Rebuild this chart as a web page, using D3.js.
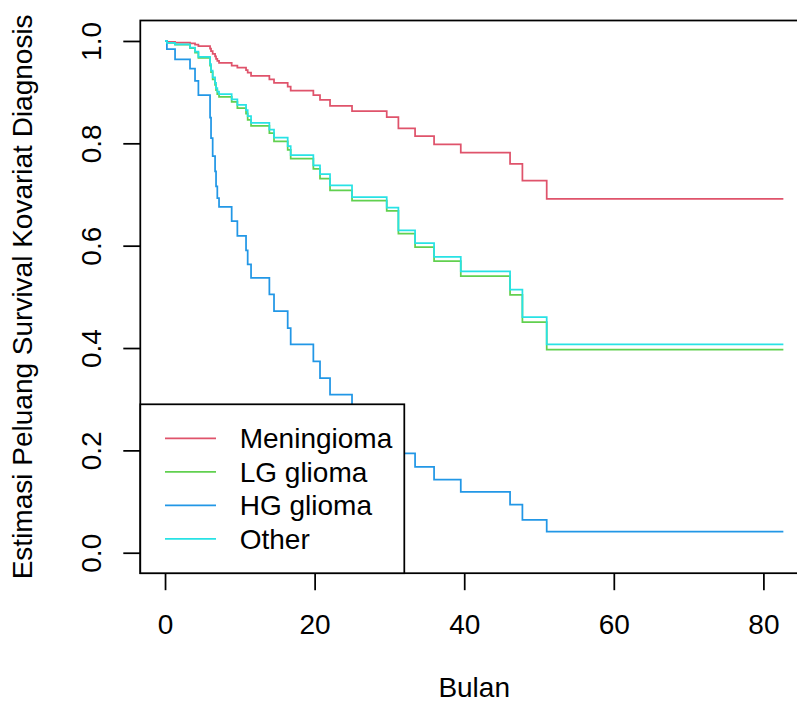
<!DOCTYPE html>
<html>
<head>
<meta charset="utf-8">
<script src="https://cdn.jsdelivr.net/npm/d3@7"></script>
<style>
  body { margin: 0; background: #fff; }
  svg { display: block; }
  text { font-family: "Liberation Sans", Arial, Helvetica, sans-serif; }
</style>
</head>
<body>
<div id="chart"></div>
<script>
// step times (bulan), shared by every curve
var times = [0, 0.25, 1.34, 3.34, 4.01, 4.46, 6.02, 6.15, 6.37, 6.69, 6.82, 6.99, 7.22,
  8.91, 9.67, 10.83, 11.05, 11.5, 13.95, 14.57, 16.4, 16.8, 19.83, 20.72, 22.06,
  25.0, 29.64, 31.2, 33.43, 35.97, 39.54, 46.13, 47.78, 51.03, 82.67];

var meningioma = [1, 0.998, 0.997, 0.9955, 0.993, 0.990, 0.985, 0.980, 0.975, 0.970, 0.965, 0.961, 0.957,
  0.952, 0.948, 0.943, 0.938, 0.932, 0.925, 0.918, 0.911, 0.903, 0.894, 0.885, 0.873,
  0.863, 0.851, 0.829, 0.814, 0.798, 0.782, 0.760, 0.727, 0.6915, 0.6915];

var lgGlioma = [1, 0.9963, 0.993, 0.986, 0.977, 0.967, 0.952, 0.939, 0.925, 0.914, 0.904, 0.896, 0.891,
  0.881, 0.869, 0.858, 0.846, 0.834, 0.820, 0.804, 0.787, 0.770, 0.750, 0.731, 0.708,
  0.688, 0.668, 0.6235, 0.597, 0.570, 0.5407, 0.504, 0.4507, 0.397, 0.397];

var hgGlioma = [1, 0.984, 0.964, 0.946, 0.922, 0.894, 0.850, 0.810, 0.775, 0.745, 0.716, 0.693, 0.676,
  0.648, 0.619, 0.591, 0.5636, 0.537, 0.505, 0.472, 0.439, 0.407, 0.374, 0.341, 0.309,
  0.272, 0.245, 0.194, 0.168, 0.143, 0.119, 0.094, 0.064, 0.041, 0.041];

var other = [1, 0.9965, 0.9935, 0.987, 0.979, 0.969, 0.955, 0.942, 0.929, 0.918, 0.908, 0.901, 0.896,
  0.886, 0.875, 0.865, 0.853, 0.840, 0.827, 0.811, 0.7945, 0.777, 0.757, 0.740, 0.718,
  0.695, 0.6745, 0.630, 0.605, 0.578, 0.550, 0.514, 0.4605, 0.407, 0.407];

var groupNames = ['Meningioma', 'LG glioma', 'HG glioma', 'Other'];
var groupColors = ['#DF536B', '#61D04F', '#2297E6', '#28E2E5'];
var series = [meningioma, lgGlioma, hgGlioma, other];

var xTicks = [0, 20, 40, 60, 80];
var yTicks = [0, 0.2, 0.4, 0.6, 0.8, 1.0];
var xTitle = 'Bulan';
var yTitle = 'Estimasi Peluang Survival Kovariat Diagnosis';

// Visual config
var width = 797, height = 702;
var fontSize = 28;
var lwd = 1.75;
var tickLen = 17;
var plotLeft = 140.3, plotRight = 808.1, plotTop = 20.5, plotBottom = 573.2;

var tmax = d3.max(times);
var x = d3.scaleLinear().domain([-0.04 * tmax, 1.04 * tmax]).range([plotLeft, plotRight]);
var y = d3.scaleLinear().domain([-0.04, 1.04]).range([plotBottom, plotTop]);

var svg = d3.select('#chart')
  .append('svg')
  .attr('width', width)
  .attr('height', height)
  .style('background', '#fff');

svg.append('clipPath')
  .attr('id', 'plotclip')
  .append('rect')
  .attr('x', plotLeft)
  .attr('y', plotTop)
  .attr('width', plotRight - plotLeft)
  .attr('height', plotBottom - plotTop);

var line = d3.line()
  .x(function (d) { return x(d[0]); })
  .y(function (d) { return y(d[1]); })
  .curve(d3.curveStepAfter);

svg.append('g')
  .attr('clip-path', 'url(#plotclip)')
  .selectAll('path')
  .data(series)
  .enter()
  .append('path')
  .attr('d', function (s) {
    return line(times.map(function (t, i) { return [t, s[i]]; }));
  })
  .attr('fill', 'none')
  .attr('stroke', function (d, i) { return groupColors[i]; })
  .attr('stroke-width', lwd);

// x axis
var xAxis = svg.append('g')
  .attr('transform', 'translate(0,' + plotBottom + ')')
  .call(d3.axisBottom(x).tickValues(xTicks).tickSize(tickLen).tickSizeOuter(0).tickFormat(d3.format('d')));
xAxis.select('.domain').remove();
xAxis.selectAll('line').attr('stroke', '#000').attr('stroke-width', lwd);
xAxis.selectAll('text')
  .attr('y', 60.8)
  .attr('dy', null)
  .attr('fill', '#000')
  .attr('font-size', fontSize)
  .style('font-family', '"Liberation Sans", Arial, Helvetica, sans-serif');

// y axis
var yAxis = svg.append('g')
  .attr('transform', 'translate(' + plotLeft + ',0)')
  .call(d3.axisLeft(y).tickValues(yTicks).tickSize(tickLen).tickSizeOuter(0).tickFormat(d3.format('.1f')));
yAxis.select('.domain').remove();
yAxis.selectAll('line').attr('stroke', '#000').attr('stroke-width', lwd);
yAxis.selectAll('text')
  .attr('x', null)
  .attr('dy', null)
  .attr('text-anchor', 'middle')
  .attr('transform', 'translate(-39.8,0) rotate(-90)')
  .attr('fill', '#000')
  .attr('font-size', fontSize)
  .style('font-family', '"Liberation Sans", Arial, Helvetica, sans-serif');

// titles
svg.append('text')
  .attr('x', (plotLeft + plotRight) / 2)
  .attr('y', 697)
  .attr('text-anchor', 'middle')
  .attr('font-size', fontSize)
  .text(xTitle);

svg.append('text')
  .attr('transform', 'translate(32,' + (plotTop + plotBottom) / 2 + ') rotate(-90)')
  .attr('text-anchor', 'middle')
  .attr('font-size', fontSize)
  .text(yTitle);

// plot frame
svg.append('rect')
  .attr('x', plotLeft)
  .attr('y', plotTop)
  .attr('width', plotRight - plotLeft)
  .attr('height', plotBottom - plotTop)
  .attr('fill', 'none')
  .attr('stroke', '#000')
  .attr('stroke-width', lwd);

// legend, bottom left
var legendTop = 404.3, legendRight = 404.3;
var rowStep = 33.5, firstRow = 438.3;

var legend = svg.append('g');
legend.append('rect')
  .attr('x', plotLeft)
  .attr('y', legendTop)
  .attr('width', legendRight - plotLeft)
  .attr('height', plotBottom - legendTop)
  .attr('fill', '#fff')
  .attr('stroke', '#000')
  .attr('stroke-width', lwd);

var rows = legend.selectAll('.legend-row')
  .data(groupNames)
  .enter()
  .append('g')
  .attr('class', 'legend-row')
  .attr('transform', function (d, i) { return 'translate(0,' + (firstRow + i * rowStep) + ')'; });

rows.append('line')
  .attr('x1', 165)
  .attr('x2', 216)
  .attr('stroke', function (d, i) { return groupColors[i]; })
  .attr('stroke-width', lwd);

rows.append('text')
  .attr('x', 239.7)
  .attr('y', 10)
  .attr('font-size', fontSize)
  .text(function (d) { return d; });
</script>
</body>
</html>
